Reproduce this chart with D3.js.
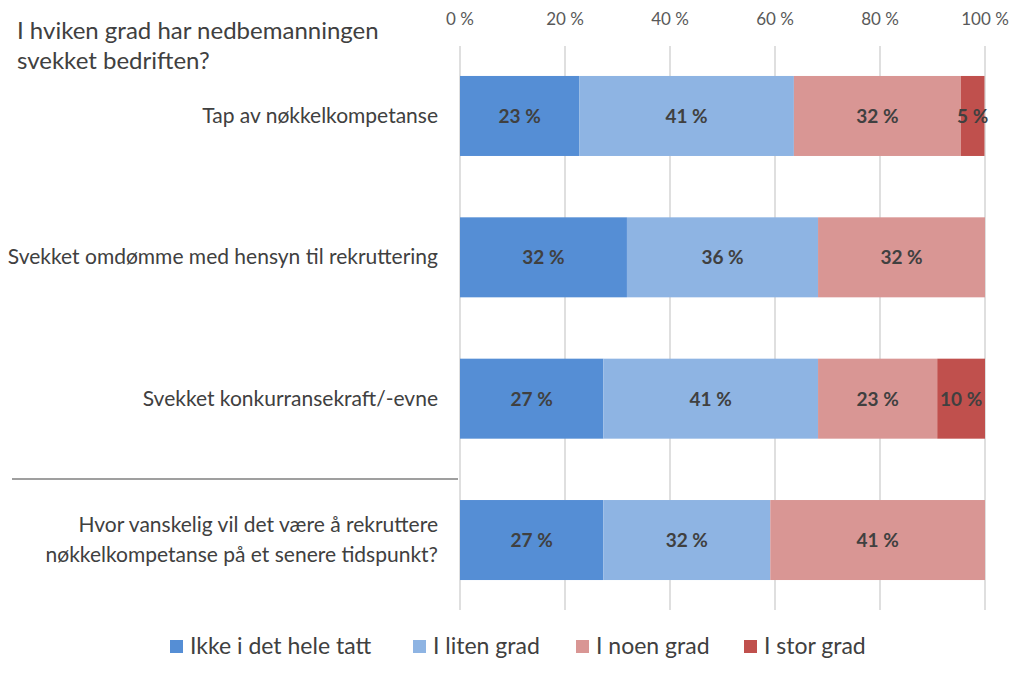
<!DOCTYPE html>
<html><head><meta charset="utf-8">
<script src="https://cdn.jsdelivr.net/npm/d3@7"></script>
<style>body{margin:0;background:#fff}svg{display:block}text{font-family:Lato,"Open Sans",sans-serif}</style>
</head><body><svg id="c" width="1024" height="673"></svg>
<script>
const categories = [
  ["Tap av nøkkelkompetanse"],
  ["Svekket omdømme med hensyn til rekruttering"],
  ["Svekket konkurransekraft/-evne"],
  ["Hvor vanskelig vil det være å rekruttere","nøkkelkompetanse på et senere tidspunkt?"]
];
const seriesNames = ["Ikke i det hele tatt","I liten grad","I noen grad","I stor grad"];
// bar shares (%)
const ikke  = [22.7, 31.8, 27.3, 27.3];
const liten = [40.9, 36.4, 40.9, 31.8];
const noen  = [31.8, 31.8, 22.7, 40.9];
const stor  = [4.5, 0, 9.1, 0];
// data labels as printed on the chart
const ikkeLabel  = [23, 32, 27, 27];
const litenLabel = [41, 36, 41, 32];
const noenLabel  = [32, 32, 23, 41];
const storLabel  = [5, null, 10, null];
const tickValues = [0,20,40,60,80,100];
const colors = ["#558ED5","#8EB4E3","#D99694","#C0504D"];
const title = ["I hviken grad har nedbemanningen","svekket bedriften?"];

const svg = d3.select("#c");
const x = d3.scaleLinear().domain([0,100]).range([460,985]);
const y = d3.scaleBand().domain(d3.range(categories.length)).range([46,610]).paddingInner(0.434).paddingOuter(0.212);

svg.append("g").selectAll("line").data(tickValues).join("line")
  .attr("x1",d=>x(d)).attr("x2",d=>x(d)).attr("y1",46).attr("y2",610)
  .attr("stroke","#BFBFBF").attr("stroke-width",1);
svg.append("g").selectAll("text").data(tickValues).join("text")
  .attr("x",d=>x(d)).attr("y",25).attr("text-anchor","middle")
  .attr("font-size",17).attr("fill","#595959").text(d=>d+" %");

const rows = categories.map((c,i)=>[ikke[i],liten[i],noen[i],stor[i]]);
const labs = categories.map((c,i)=>[ikkeLabel[i],litenLabel[i],noenLabel[i],storLabel[i]]);
const layers = d3.stack().keys([0,1,2,3]).value((d,k)=>d[k])(rows);
layers.forEach((layer,k)=>{
  const g = svg.append("g");
  const data = layer.map((d,i)=>({s:d,i}));
  g.selectAll("rect").data(data).join("rect")
    .attr("x",d=>x(d.s[0])).attr("width",d=>x(d.s[1])-x(d.s[0]))
    .attr("y",d=>y(d.i)).attr("height",y.bandwidth())
    .attr("fill",colors[k]);
  g.selectAll("text").data(data.filter(d=>labs[d.i][k]!=null)).join("text")
    .attr("x",d=>(x(d.s[0])+x(d.s[1]))/2)
    .attr("y",d=>y(d.i)+y.bandwidth()/2+7)
    .attr("text-anchor","middle").attr("font-size",19).attr("font-weight","bold")
    .attr("fill","#404040").text(d=>labs[d.i][k]+" %");
});

categories.forEach((lines,i)=>{
  const cy = y(i)+y.bandwidth()/2;
  const t = svg.append("text").attr("text-anchor","end").attr("font-size",21).attr("fill","#404040");
  lines.forEach((l,j)=>{
    t.append("tspan").attr("x",438).attr("y",cy+7+(j-(lines.length-1)/2)*30).text(l);
  });
});

const sepY = y(3)-21;
svg.append("line").attr("x1",12).attr("x2",458).attr("y1",sepY).attr("y2",sepY)
  .attr("stroke","#7F7F7F").attr("stroke-width",1.5);

const tt = svg.append("text").attr("font-size",24).attr("fill","#404040");
title.forEach((l,j)=>tt.append("tspan").attr("x",17).attr("y",39+j*30).text(l));

const legX = [170,413,576,744];
const lg = svg.append("g");
seriesNames.forEach((n,k)=>{
  lg.append("rect").attr("x",legX[k]).attr("y",640).attr("width",13).attr("height",13).attr("fill",colors[k]);
  lg.append("text").attr("x",legX[k]+20).attr("y",654).attr("font-size",23).attr("fill","#404040").text(n);
});
</script></body></html>
